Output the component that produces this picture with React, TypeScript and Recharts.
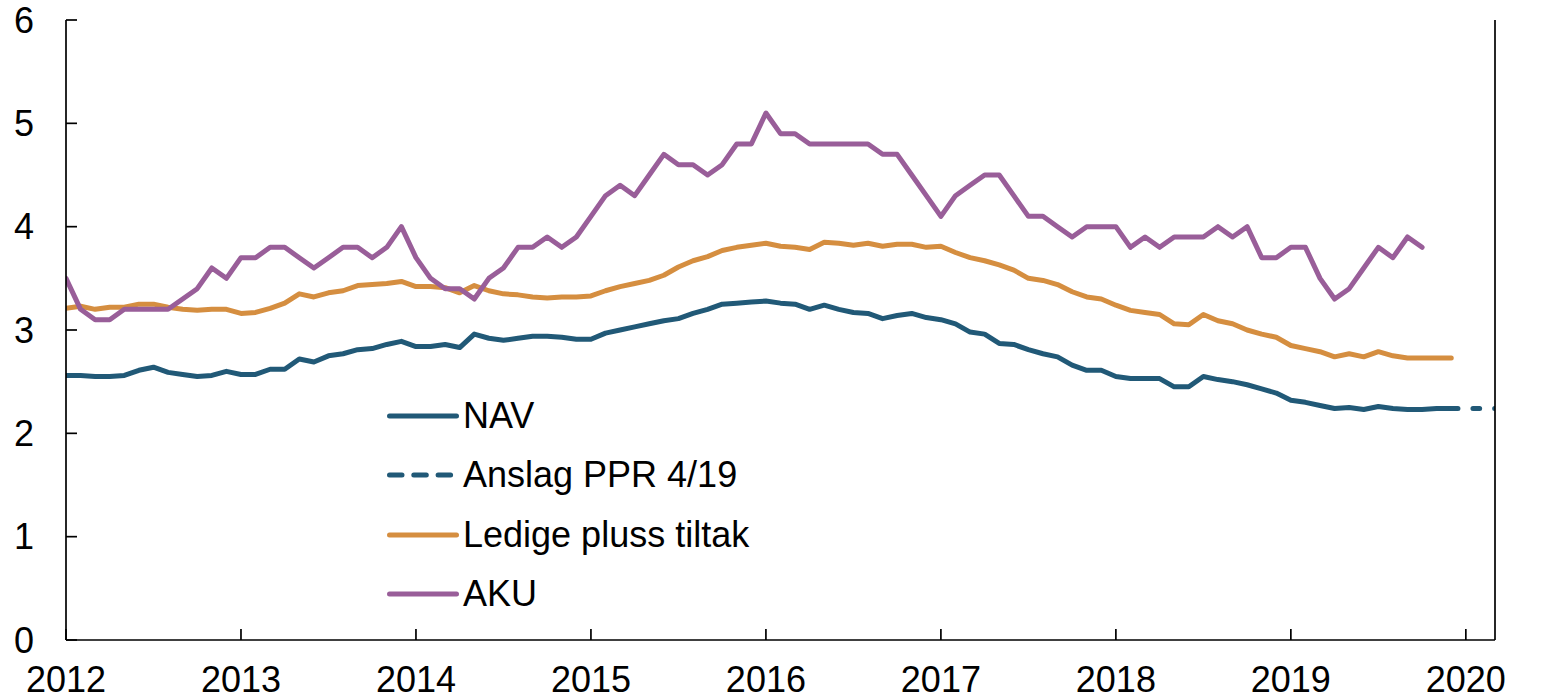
import React from 'react';
import { LineChart, Line, XAxis, YAxis, Legend } from 'recharts';

// Monthly observations, month index 0 = January 2012
const yearLabels = [2012, 2013, 2014, 2015, 2016, 2017, 2018, 2019, 2020];
const yTicks = [0, 1, 2, 3, 4, 5, 6];

const navValues = [
  2.56, 2.56, 2.55, 2.55, 2.56, 2.61, 2.64, 2.59, 2.57, 2.55, 2.56, 2.60,
  2.57, 2.57, 2.62, 2.62, 2.72, 2.69, 2.75, 2.77, 2.81, 2.82, 2.86, 2.89,
  2.84, 2.84, 2.86, 2.83, 2.96, 2.92, 2.90, 2.92, 2.94, 2.94, 2.93, 2.91,
  2.91, 2.97, 3.00, 3.03, 3.06, 3.09, 3.11, 3.16, 3.20, 3.25, 3.26, 3.27,
  3.28, 3.26, 3.25, 3.20, 3.24, 3.20, 3.17, 3.16, 3.11, 3.14, 3.16, 3.12,
  3.10, 3.06, 2.98, 2.96, 2.87, 2.86, 2.81, 2.77, 2.74, 2.66, 2.61, 2.61,
  2.55, 2.53, 2.53, 2.53, 2.45, 2.45, 2.55, 2.52, 2.50, 2.47, 2.43, 2.39,
  2.32, 2.30, 2.27, 2.24, 2.25, 2.23, 2.26, 2.24, 2.23, 2.23, 2.24, 2.24,
];

const forecastStart = 95;
const forecastValues = [2.24, 2.24, 2.24, 2.24];

const ledigeValues = [
  3.21, 3.23, 3.20, 3.22, 3.22, 3.25, 3.25, 3.22, 3.20, 3.19, 3.20, 3.20,
  3.16, 3.17, 3.21, 3.26, 3.35, 3.32, 3.36, 3.38, 3.43, 3.44, 3.45, 3.47,
  3.42, 3.42, 3.41, 3.36, 3.43, 3.38, 3.35, 3.34, 3.32, 3.31, 3.32, 3.32,
  3.33, 3.38, 3.42, 3.45, 3.48, 3.53, 3.61, 3.67, 3.71, 3.77, 3.80, 3.82,
  3.84, 3.81, 3.80, 3.78, 3.85, 3.84, 3.82, 3.84, 3.81, 3.83, 3.83, 3.80,
  3.81, 3.75, 3.70, 3.67, 3.63, 3.58, 3.50, 3.48, 3.44, 3.37, 3.32, 3.30,
  3.24, 3.19, 3.17, 3.15, 3.06, 3.05, 3.15, 3.09, 3.06, 3.00, 2.96, 2.93,
  2.85, 2.82, 2.79, 2.74, 2.77, 2.74, 2.79, 2.75, 2.73, 2.73, 2.73, 2.73,
];

const akuValues = [
  3.5, 3.2, 3.1, 3.1, 3.2, 3.2, 3.2, 3.2, 3.3, 3.4, 3.6, 3.5,
  3.7, 3.7, 3.8, 3.8, 3.7, 3.6, 3.7, 3.8, 3.8, 3.7, 3.8, 4.0,
  3.7, 3.5, 3.4, 3.4, 3.3, 3.5, 3.6, 3.8, 3.8, 3.9, 3.8, 3.9,
  4.1, 4.3, 4.4, 4.3, 4.5, 4.7, 4.6, 4.6, 4.5, 4.6, 4.8, 4.8,
  5.1, 4.9, 4.9, 4.8, 4.8, 4.8, 4.8, 4.8, 4.7, 4.7, 4.5, 4.3,
  4.1, 4.3, 4.4, 4.5, 4.5, 4.3, 4.1, 4.1, 4.0, 3.9, 4.0, 4.0,
  4.0, 3.8, 3.9, 3.8, 3.9, 3.9, 3.9, 4.0, 3.9, 4.0, 3.7, 3.7,
  3.8, 3.8, 3.5, 3.3, 3.4, 3.6, 3.8, 3.7, 3.9, 3.8,
];

const lastMonth = 98; // March 2020, right edge of the axis

const seriesInfo = [
  { key: 'nav', name: 'NAV', color: '#215977', dashed: false },
  { key: 'forecast', name: 'Anslag PPR 4/19', color: '#215977', dashed: true },
  { key: 'ledige', name: 'Ledige pluss tiltak', color: '#d58e40', dashed: false },
  { key: 'aku', name: 'AKU', color: '#995e99', dashed: false },
];

const data = Array.from({ length: lastMonth + 1 }, (_, m) => ({
  m,
  nav: navValues[m],
  forecast:
    m >= forecastStart && m - forecastStart < forecastValues.length
      ? forecastValues[m - forecastStart]
      : undefined,
  ledige: ledigeValues[m],
  aku: akuValues[m],
}));

const xTicks = yearLabels.map((_, i) => i * 12);
const FONT = '"Liberation Sans", Arial, sans-serif';
const FS = 36;
const tickStyle = { fontSize: FS, fill: '#000', fontFamily: FONT };
const PLOT_DASH = '6.7 15';
const LEGEND_DASH = '12.5 11.8';
const LW = 5;

const LegendContent = () => (
  <div style={{ fontFamily: FONT, fontSize: FS, color: '#000', lineHeight: 1 }}>
    {seriesInfo.map((s) => (
      <div key={s.key} style={{ display: 'flex', alignItems: 'center', height: 59.5 }}>
        <svg width={75} height={10} style={{ display: 'block', flex: 'none' }}>
          <line
            x1={4.5}
            x2={71.5}
            y1={5}
            y2={5}
            stroke={s.color}
            strokeWidth={LW}
            strokeLinecap="round"
            strokeDasharray={s.dashed ? LEGEND_DASH : undefined}
          />
        </svg>
        <span style={{ marginLeft: 3, whiteSpace: 'nowrap' }}>{s.name}</span>
      </div>
    ))}
  </div>
);

export default function App() {
  return (
    <div style={{ position: 'absolute', left: 0, top: 0, background: '#fff' }}>
      <LineChart
        width={1553}
        height={700}
        data={data}
        margin={{ top: 20, right: 0, left: 0, bottom: 0 }}
      >
        <XAxis
          dataKey="m"
          type="number"
          domain={[0, lastMonth]}
          ticks={xTicks}
          tickFormatter={(v: number) => String(yearLabels[0] + v / 12)}
          tick={tickStyle}
          tickSize={-11}
          tickMargin={37}
          height={60}
          interval={0}
          stroke="#000"
          strokeWidth={1.7}
          allowDataOverflow
        />
        <YAxis
          yAxisId="left"
          domain={[0, 6]}
          ticks={yTicks}
          tick={tickStyle}
          tickSize={-11}
          tickMargin={43}
          width={66}
          interval={0}
          stroke="#000"
          strokeWidth={1.7}
        />
        <YAxis
          yAxisId="right"
          orientation="right"
          domain={[0, 6]}
          ticks={yTicks}
          tick={{ ...tickStyle, textAnchor: 'start' }}
          tickSize={-11}
          tickMargin={32}
          width={58}
          interval={0}
          stroke="#000"
          strokeWidth={1.7}
        />
        <Legend
          content={<LegendContent />}
          layout="vertical"
          align="center"
          verticalAlign="middle"
          wrapperStyle={{ position: 'absolute', left: 385, top: 386, width: 450 }}
        />
        {seriesInfo.map((s) => (
          <Line
            key={s.key}
            yAxisId="left"
            type="linear"
            dataKey={s.key}
            name={s.name}
            stroke={s.color}
            strokeWidth={LW}
            strokeLinecap="round"
            strokeLinejoin="round"
            strokeDasharray={s.dashed ? PLOT_DASH : undefined}
            dot={false}
            activeDot={false}
            isAnimationActive={false}
            connectNulls={false}
          />
        ))}
      </LineChart>
    </div>
  );
}
